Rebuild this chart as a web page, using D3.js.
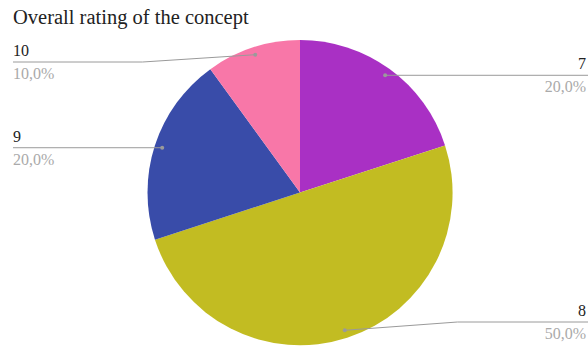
<!DOCTYPE html>
<html>
<head>
<meta charset="utf-8">
<script src="https://cdn.jsdelivr.net/npm/d3@7"></script>
<style>
  body { margin: 0; background: #fff; }
  svg { display: block; }
</style>
</head>
<body>
<div class="chart"></div>
<script>
// rating buckets and their share of answers
const ratings = ["7", "8", "9", "10"];
const counts = [2, 5, 2, 1];
const sliceColors = ["#a930c4", "#c2bc22", "#394ca9", "#f877a8"];
const title = "Overall rating of the concept";

const width = 588, height = 347;
const cx = 300, cy = 192.5, radius = 152.5;

const data = ratings.map((r, i) => ({rating: r, count: counts[i]}));
const total = d3.sum(counts);
const pctFormat = v => d3.format(".1f")(v).replace(".", ",") + "%";

const scaleColor = d3.scaleOrdinal().domain(ratings).range(sliceColors);

const pie = d3.pie()
    .value(d => d.count)
    .sort(null);

const arc = d3.arc()
    .innerRadius(0)
    .outerRadius(radius);

const dotArc = d3.arc()
    .innerRadius(radius * 0.95)
    .outerRadius(radius * 0.95);

var svg = d3.select(".chart")
    .append("svg")
    .attr("width", width)
    .attr("height", height);

svg.append("text")
    .text(title)
    .attr("x", 13)
    .attr("y", 24)
    .attr("font-family", "'Liberation Serif', 'Times New Roman', serif")
    .attr("font-size", 20.5)
    .attr("fill", "#222");

var g = svg.append("g")
    .attr("transform", `translate(${cx},${cy})`);

var arcs = pie(data);

g.selectAll("path")
    .data(arcs)
    .enter()
    .append("path")
    .attr("d", arc)
    .attr("fill", d => scaleColor(d.data.rating));

// leader lines: dot inside slice, elbow just outside pie, then to the edge
const minY = 62 - cy, maxY = 322 - cy;
var labels = arcs.map(d => {
    const [x, y] = dotArc.centroid(d);
    const mid = (d.startAngle + d.endAngle) / 2;
    const right = mid < Math.PI;
    const ly = Math.max(minY, Math.min(maxY, y));
    const ex = right ? radius + 5 : -(radius + 5);
    const elbowX = ly === y ? x : ex;
    const endX = right ? width - cx : 13 - cx;
    return {d, x, y, ly, elbowX, endX, right};
});

g.selectAll("polyline")
    .data(labels)
    .enter()
    .append("polyline")
    .attr("points", l => [[l.x, l.y], [l.elbowX, l.ly], [l.endX, l.ly]].join(" "))
    .attr("fill", "none")
    .attr("stroke", "#9a9a9a")
    .attr("stroke-width", 1);

g.selectAll("circle")
    .data(labels)
    .enter()
    .append("circle")
    .attr("cx", l => l.x)
    .attr("cy", l => l.y)
    .attr("r", 2)
    .attr("fill", "#9a9a9a");

g.selectAll("text.name")
    .data(labels)
    .enter()
    .append("text")
    .attr("class", "name")
    .text(l => l.d.data.rating)
    .attr("x", l => l.right ? width - cx - 2 : 13 - cx)
    .attr("y", l => l.ly - 6)
    .attr("text-anchor", l => l.right ? "end" : "start")
    .attr("font-family", "'Liberation Serif', 'Times New Roman', serif")
    .attr("font-size", 16)
    .attr("fill", "#222");

g.selectAll("text.pct")
    .data(labels)
    .enter()
    .append("text")
    .attr("class", "pct")
    .text(l => pctFormat(l.d.data.count / total * 100))
    .attr("x", l => l.right ? width - cx - 2 : 13 - cx)
    .attr("y", l => l.ly + 17)
    .attr("text-anchor", l => l.right ? "end" : "start")
    .attr("font-family", "'Liberation Serif', 'Times New Roman', serif")
    .attr("font-size", 16)
    .attr("fill", "#aaaaaa");
</script>
</body>
</html>
